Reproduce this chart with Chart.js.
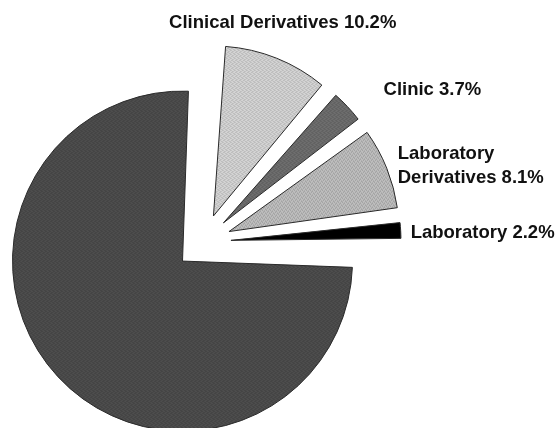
<!DOCTYPE html>
<html>
<head>
<meta charset="utf-8">
<script src="https://cdn.jsdelivr.net/npm/chart.js@4"></script>
<style>
  html, body { margin: 0; padding: 0; background: #fff; overflow: hidden; }
  canvas { display: block; }
</style>
</head>
<body>
<canvas id="shareChart" width="559" height="428"></canvas>
<script>
// slices run clockwise from the top; the last one is the large unlabelled remainder
const categories = ['Clinical Derivatives', 'Clinic', 'Laboratory\nDerivatives', 'Laboratory', 'Other'];
const shares = [10.2, 3.7, 8.1, 2.2, 75.8];
const showLabel = [true, true, true, true, false];

// label placement: alignment and nudge from the outer midpoint of each slice
const labelAlign = ['center', 'left', 'left', 'left', 'left'];
const labelShift = [[6, -35], [36, -17], [11, -2], [10, 2], [0, 0]];

const RADIUS = 170;
const EXPLODE = 112; // chart.js moves a slice by offset / 4

// small dotted fill, like an old print pattern
function stipple(base, dot) {
  const c = document.createElement('canvas');
  c.width = 4; c.height = 4;
  const g = c.getContext('2d');
  g.fillStyle = base;
  g.fillRect(0, 0, 4, 4);
  g.fillStyle = dot;
  g.fillRect(0, 0, 1, 1);
  g.fillRect(2, 1, 1, 1);
  g.fillRect(1, 2, 1, 1);
  g.fillRect(3, 3, 1, 1);
  return g.createPattern(c, 'repeat');
}

const fills = [
  stipple('#d4d4d4', '#a9a9a9'),
  stipple('#6e6e6e', '#555555'),
  stipple('#bdbdbd', '#969696'),
  '#000000',
  stipple('#444444', '#585858')
];

// exploded arcs get a bigger radius by (offset / 4) * (1 - sin(angle)); take that back out
const evenRadius = {
  id: 'evenRadius',
  afterDatasetUpdate(chart, args) {
    const meta = chart.getDatasetMeta(args.index);
    meta.data.forEach(arc => {
      const off = (arc.options.offset || 0) / 4;
      const fix = 1 - Math.sin(Math.min(Math.PI, arc.circumference));
      arc.outerRadius = meta.controller.outerRadius - off * fix;
    });
  }
};

const sliceLabels = {
  id: 'sliceLabels',
  afterDatasetsDraw(chart) {
    const { ctx } = chart;
    const meta = chart.getDatasetMeta(0);
    ctx.save();
    ctx.font = 'bold 18.5px "Liberation Sans", Arial, sans-serif';
    ctx.fillStyle = '#111';
    ctx.textBaseline = 'middle';
    meta.data.forEach((arc, i) => {
      if (!showLabel[i]) return;
      const mid = (arc.startAngle + arc.endAngle) / 2;
      const dist = (arc.options.offset || 0) / 4 + RADIUS;
      const x = arc.x + Math.cos(mid) * dist + labelShift[i][0];
      const y = arc.y + Math.sin(mid) * dist + labelShift[i][1];
      const lines = (categories[i] + ' ' + shares[i].toFixed(1) + '%').split('\n');
      const lineH = 24;
      ctx.textAlign = labelAlign[i];
      lines.forEach((line, k) => {
        ctx.fillText(line, x, y + (k - (lines.length - 1) / 2) * lineH);
      });
    });
    ctx.restore();
  }
};

const ctx = document.getElementById('shareChart').getContext('2d');
const shareChart = new Chart(ctx, {
  type: 'pie',
  data: {
    labels: categories,
    datasets: [{
      data: shares,
      backgroundColor: fills,
      borderColor: '#2a2a2a',
      borderWidth: 1,
      offset: EXPLODE,
      clip: false
    }]
  },
  options: {
    responsive: false,
    animation: false,
    rotation: 3.5,
    radius: RADIUS,
    layout: {
      padding: { left: 0, right: 153, top: 56, bottom: 0 }
    },
    plugins: {
      legend: { display: false },
      tooltip: { enabled: false }
    }
  },
  plugins: [evenRadius, sliceLabels]
});
</script>
</body>
</html>
